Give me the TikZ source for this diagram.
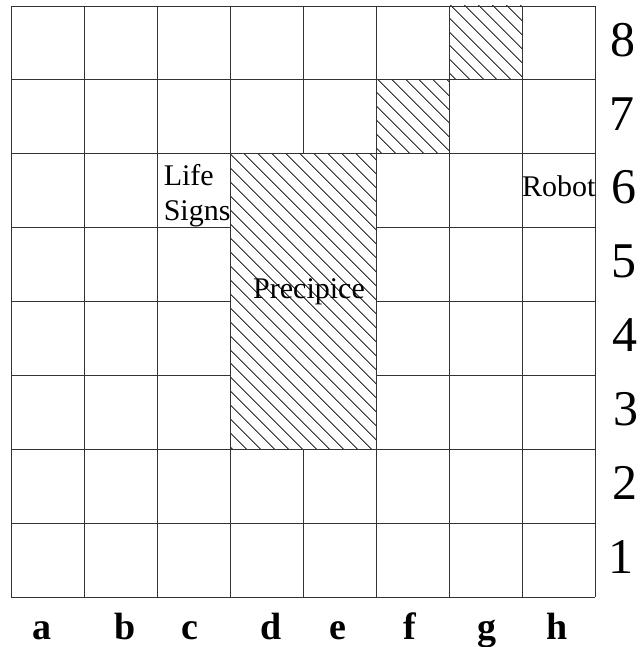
\documentclass[tikz,border=0pt]{standalone}
\usepackage{fontspec}
\setmainfont{Liberation Serif}
\usetikzlibrary{patterns.meta}
\tikzset{
  gridline/.style={draw=black!80,line width=0.9pt},
  hatched/.style={pattern={Lines[angle=-45,distance=10.5pt,line width=1.1pt]},pattern color=black!75},
  ranklabel/.style={font=\fontsize{50}{50}\selectfont,inner sep=0pt},
  filelabel/.style={font=\fontsize{38}{38}\selectfont\bfseries,inner sep=0pt,anchor=base},
  maplabel/.style={font=\fontsize{30}{35}\selectfont,inner sep=0pt},
}
\begin{document}
\begin{tikzpicture}[x=73pt,y=73.875pt]
  \useasboundingbox (-11pt,-50pt) rectangle (628pt,597pt);
  \draw[gridline,step={(1,1)}] (0,0) grid (8,8);
  \foreach \x/\y/\w/\h in {6/7/1/1,5/6/1/1,3/2/2/4}{
    \fill[white] (\x,\y) rectangle ++(\w,\h);
    \fill[hatched] (\x,\y) rectangle ++(\w,\h);
    \draw[gridline] (\x,\y) rectangle ++(\w,\h);}
  \node[maplabel,anchor=north west,align=left] (lifesigns) at (2.09,5.86) {Life\\Signs};
  \node[maplabel,anchor=base west] (robot) at (7.0,5.415) {Robot};
  \node[maplabel,anchor=base west] (precipice) at (3.315,4.047) {Precipice};
  \foreach \r/\dx in {1/8.36,2/8.41,3/8.42,4/8.41,5/8.40,6/8.40,7/8.37,8/8.38}{
    \node[ranklabel] (rank\r) at (\dx,\r-0.5) [yshift=3pt] {\r};}
  \foreach \f/\fx in {a/0.425,b/1.56,c/2.45,d/3.56,e/4.48,f/5.47,g/6.52,h/7.48}{
    \node[filelabel] (file\f) at (\fx,-0.582) {\f};}
\end{tikzpicture}
\end{document}
